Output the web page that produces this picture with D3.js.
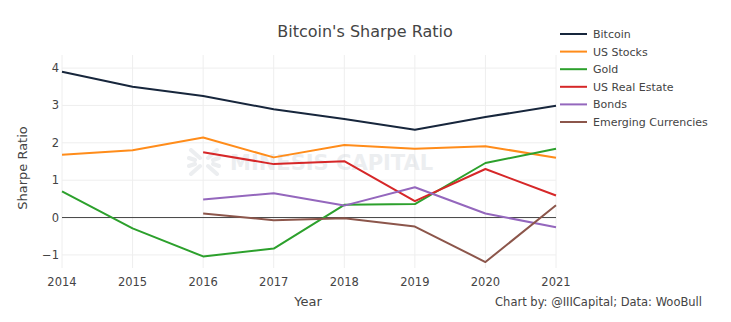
<!DOCTYPE html>
<html>
<head>
<meta charset="utf-8">
<script src="https://cdn.jsdelivr.net/npm/d3@7"></script>
<style>
  body { margin: 0; background: #fff; }
  svg { display: block; font-family: "DejaVu Sans", Verdana, sans-serif; }
</style>
</head>
<body>
<script>
var width = 731,
    height = 322,
    plot = {left: 62, right: 556, top: 55, bottom: 268}; // plot area

// data
var years = [2014, 2015, 2016, 2017, 2018, 2019, 2020, 2021];
var bitcoin = [3.9, 3.5, 3.25, 2.9, 2.64, 2.35, 2.69, 2.99];
var usStocks = [1.68, 1.8, 2.14, 1.61, 1.94, 1.84, 1.91, 1.6];
var gold = [0.7, -0.29, -1.04, -0.83, 0.34, 0.36, 1.46, 1.84];
var usRealEstate = [null, null, 1.75, 1.43, 1.51, 0.44, 1.3, 0.59];
var bonds = [null, null, 0.48, 0.65, 0.32, 0.81, 0.11, -0.26];
var emergingCurrencies = [null, null, 0.11, -0.07, -0.02, -0.24, -1.19, 0.33];
var yTicks = [-1, 0, 1, 2, 3, 4];

var series = [
  {name: "Bitcoin", values: bitcoin, color: "#17263c"},
  {name: "US Stocks", values: usStocks, color: "#ff8c1a"},
  {name: "Gold", values: gold, color: "#2ca02c"},
  {name: "US Real Estate", values: usRealEstate, color: "#d62728"},
  {name: "Bonds", values: bonds, color: "#9467bd"},
  {name: "Emerging Currencies", values: emergingCurrencies, color: "#8c564b"}
];

var svg = d3.select("body")
            .append("svg")
            .attr("width", width)
            .attr("height", height);

var x = d3.scaleLinear().domain([2014, 2021]).range([plot.left, plot.right]);
var y = d3.scaleLinear().domain([-1.35, 4.35]).range([plot.bottom, plot.top]);

// grid
svg.append("g").selectAll("line")
   .data(years).enter().append("line")
   .attr("x1", d => x(d)).attr("x2", d => x(d))
   .attr("y1", plot.top).attr("y2", plot.bottom)
   .attr("stroke", "#eeeeee").attr("stroke-width", 1);

svg.append("g").selectAll("line")
   .data(yTicks.filter(d => d !== 0)).enter().append("line")
   .attr("x1", plot.left).attr("x2", plot.right)
   .attr("y1", d => y(d)).attr("y2", d => y(d))
   .attr("stroke", "#eeeeee").attr("stroke-width", 1);

// watermark
var wm = svg.append("g").attr("opacity", 0.4);
wm.append("text")
  .attr("x", 230).attr("y", 170)
  .attr("font-size", 21).attr("font-weight", "bold")
  .attr("fill", "#d0d5dc")
  .text("MINESIS CAPITAL");
var logo = wm.append("g").attr("transform", "translate(204,162)")
  .attr("stroke", "#d0d5dc").attr("stroke-width", 4).attr("fill", "none")
  .attr("stroke-linecap", "round");
[[-1, -1], [1, -1], [-1, 1], [1, 1]].forEach(function(s) {
  logo.append("path").attr("d", "M" + (s[0] * 4) + "," + (s[1] * 4) + " L" + (s[0] * 13) + "," + (s[1] * 12));
  logo.append("path").attr("d", "M" + (s[0] * 9) + "," + (s[1] * 2) + " L" + (s[0] * 15) + "," + (s[1] * 4));
});

// zero line
svg.append("line")
   .attr("x1", plot.left).attr("x2", plot.right)
   .attr("y1", y(0)).attr("y2", y(0))
   .attr("stroke", "#444").attr("stroke-width", 1);

// tick labels
svg.append("g").selectAll("text")
   .data(years).enter().append("text")
   .attr("x", d => x(d)).attr("y", 286)
   .attr("text-anchor", "middle")
   .attr("font-size", 11.5).attr("fill", "#444")
   .text(d => d);

svg.append("g").selectAll("text")
   .data(yTicks).enter().append("text")
   .attr("x", 59).attr("y", d => y(d) + 4)
   .attr("text-anchor", "end")
   .attr("font-size", 11.5).attr("fill", "#444")
   .text(d => d < 0 ? "\u2212" + Math.abs(d) : d);

// lines
var line = d3.line()
  .defined(d => d[1] !== null)
  .x(d => x(d[0]))
  .y(d => y(d[1]));

svg.append("g").selectAll("path")
   .data(series).enter().append("path")
   .attr("d", s => line(years.map((yr, i) => [yr, s.values[i]])))
   .attr("fill", "none")
   .attr("stroke", s => s.color)
   .attr("stroke-width", 2)
   .attr("stroke-linejoin", "round");

// titles
svg.append("text")
   .attr("x", 365).attr("y", 37)
   .attr("text-anchor", "middle")
   .attr("font-size", 16).attr("fill", "#444")
   .text("Bitcoin's Sharpe Ratio");

svg.append("text")
   .attr("transform", "translate(27,168) rotate(-90)")
   .attr("text-anchor", "middle")
   .attr("font-size", 13).attr("fill", "#444")
   .text("Sharpe Ratio");

svg.append("text")
   .attr("x", 308).attr("y", 306)
   .attr("text-anchor", "middle")
   .attr("font-size", 13).attr("fill", "#444")
   .text("Year");

svg.append("text")
   .attr("x", 702).attr("y", 306)
   .attr("text-anchor", "end")
   .attr("font-size", 11.5).attr("fill", "#444")
   .text("Chart by: @IIICapital; Data: WooBull");

// legend
var legend = svg.append("g").selectAll("g")
  .data(series).enter().append("g")
  .attr("transform", (d, i) => "translate(560," + (34 + i * 17.6) + ")");

legend.append("line")
  .attr("x1", 0).attr("x2", 27)
  .attr("stroke", d => d.color).attr("stroke-width", 2);

legend.append("text")
  .attr("x", 33).attr("y", 4)
  .attr("font-size", 11).attr("fill", "#444")
  .text(d => d.name);
</script>
</body>
</html>
